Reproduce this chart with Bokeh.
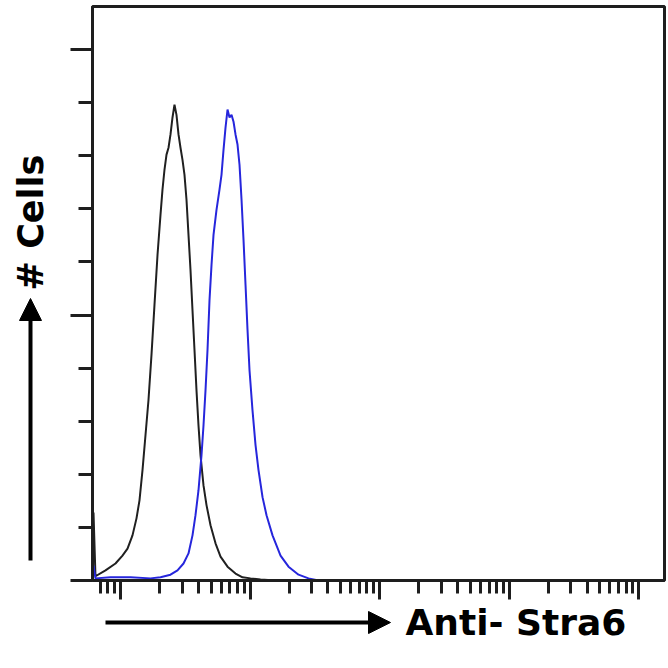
from bokeh.plotting import figure
from bokeh.layouts import row, column
from bokeh.models import Range1d, FixedTicker, Label, Arrow, NormalHead, CustomJSTickFormatter
from bokeh.embed import file_html
from bokeh.resources import INLINE

# ---- data (fluorescence intensity, event count in tick units) ----
control_intensity = [0.619, 0.641, 0.766, 0.915, 1.036, 1.133, 1.238, 1.329, 1.402, 1.479,
                     1.560, 1.645, 1.735, 1.830, 1.931, 2.037, 2.110, 2.187, 2.266, 2.348,
                     2.433, 2.521, 2.612, 2.706, 2.805, 2.906, 3.011, 3.120, 3.233, 3.350,
                     3.471, 3.597, 3.727, 3.862, 4.002, 4.147, 4.374, 4.614, 4.955, 5.416,
                     5.920, 6.705, 7.727, 8.752, 10.09, 12.05, 15.74]
control_count = [1.28, 0.08, 0.19, 0.32, 0.47, 0.60, 0.85, 1.17, 1.51, 2.08,
                 2.74, 3.40, 4.25, 5.19, 6.13, 6.89, 7.36, 7.74, 8.02, 8.15,
                 8.40, 8.72, 8.96, 8.77, 8.40, 8.15, 7.92, 7.64, 7.17, 6.51,
                 5.85, 5.09, 4.34, 3.58, 2.92, 2.36, 1.79, 1.42, 1.04, 0.70,
                 0.45, 0.26, 0.13, 0.06, 0.04, 0.02, 0.0]

stra6_intensity = [0.619, 0.641, 0.837, 1.195, 1.705, 2.037, 2.433, 2.755, 3.065, 3.350,
                   3.597, 3.794, 4.002, 4.222, 4.374, 4.533, 4.697, 4.867, 5.043, 5.226,
                   5.511, 5.813, 6.024, 6.243, 6.469, 6.705, 6.947, 7.197, 7.459, 7.727,
                   8.008, 8.297, 8.600, 8.908, 9.233, 9.566, 9.911, 10.45, 11.03, 11.63,
                   12.49, 13.41, 14.92, 17.20, 19.83, 23.69, 28.29, 33.81]
stra6_count = [0.28, 0.04, 0.06, 0.06, 0.04, 0.06, 0.11, 0.19, 0.32, 0.51,
               0.85, 1.23, 1.70, 2.36, 2.92, 3.58, 4.34, 5.28, 5.94, 6.51,
               6.98, 7.36, 7.64, 8.11, 8.53, 8.87, 8.72, 8.77, 8.64, 8.40,
               8.21, 7.83, 7.17, 6.42, 5.57, 4.72, 3.96, 3.21, 2.55, 2.08,
               1.57, 1.23, 0.85, 0.47, 0.26, 0.11, 0.04, 0.0]

x_major_ticks = [1, 10, 100, 1000, 10000]
x_minor_ticks = [0.7, 0.8, 0.9,
                 2, 3, 4, 5, 6, 7, 8, 9,
                 20, 30, 40, 50, 60, 70, 80, 90,
                 200, 300, 400, 500, 600, 700, 800, 900,
                 2000, 3000, 4000, 5000, 6000, 7000, 8000, 9000]
y_major_ticks = [0, 5, 10]
y_minor_ticks = [1, 2, 3, 4, 6, 7, 8, 9]

x_label = "Anti- Stra6"
y_label = "# Cells"

INK = "#1e1e1e"
W, H = 667, 667
LEFT_W = 50
MAIN_H = 602
B_LEFT, B_RIGHT = 42, 3

# ---------------- main histogram ----------------
p = figure(width=W - LEFT_W, height=MAIN_H, x_axis_type="log",
           x_range=Range1d(0.608, 15850), y_range=Range1d(0, 10.81),
           output_backend="svg", toolbar_location=None,
           min_border_left=B_LEFT, min_border_right=B_RIGHT, min_border_top=6, min_border_bottom=22)
p.grid.visible = False
p.outline_line_color = INK
p.outline_line_width = 3
p.background_fill_color = "white"
p.border_fill_color = "white"

xa = p.xaxis[0]
xa.ticker = FixedTicker(ticks=x_major_ticks, minor_ticks=x_minor_ticks)
xa.formatter = CustomJSTickFormatter(code="return ''")
xa.major_label_text_font_size = "1px"
xa.major_label_standoff = 0
xa.major_tick_in = 0
xa.major_tick_out = 19
xa.minor_tick_in = 0
xa.minor_tick_out = 13
xa.axis_line_width = 3
xa.axis_line_color = INK
xa.major_tick_line_width = 3
xa.minor_tick_line_width = 3
xa.major_tick_line_color = INK
xa.minor_tick_line_color = INK

ya = p.yaxis[0]
ya.ticker = FixedTicker(ticks=y_major_ticks, minor_ticks=y_minor_ticks)
ya.formatter = CustomJSTickFormatter(code="return ''")
ya.major_label_text_font_size = "1px"
ya.major_label_standoff = 0
ya.major_tick_in = 0
ya.major_tick_out = 22
ya.minor_tick_in = 0
ya.minor_tick_out = 14
ya.axis_line_width = 3
ya.axis_line_color = INK
ya.major_tick_line_width = 3
ya.minor_tick_line_width = 3
ya.major_tick_line_color = INK
ya.minor_tick_line_color = INK

p.line(control_intensity, control_count, line_color="#202020", line_width=2)
p.line(stra6_intensity, stra6_count, line_color="#2626dc", line_width=2)


def blank_panel(w, h, x0, y0, bl=0, br=0):
    """A plain panel whose data coordinates equal page pixels (y downwards)."""
    f = figure(width=w, height=h,
               x_range=Range1d(x0 + bl, x0 + w - br), y_range=Range1d(y0 + h, y0),
               output_backend="svg", toolbar_location=None,
               x_axis_location=None, y_axis_location=None,
               min_border=0, min_border_left=bl, min_border_right=br,
               min_border_top=0, min_border_bottom=0)
    f.grid.visible = False
    f.outline_line_color = None
    f.background_fill_color = "white"
    f.border_fill_color = "white"
    return f


def head():
    return NormalHead(size=22, fill_color="black", line_color="black", line_width=1)


# ---------------- y label column ----------------
left = blank_panel(LEFT_W, H, 0, 0)
left.add_layout(Arrow(x_start=30, y_start=560, x_end=30, y_end=298,
                      line_width=4, line_color="black", end=head()))
left.add_layout(Label(x=30, y=222, text=y_label, angle=90, angle_units="deg",
                      text_align="center", text_baseline="middle",
                      text_font="DejaVu Sans", text_font_style="bold", text_font_size="35px",
                      text_color="black"))

# ---------------- x label row (frame aligned with the histogram frame) ----------------
bottom = blank_panel(W - LEFT_W, H - MAIN_H, LEFT_W, MAIN_H, bl=B_LEFT, br=B_RIGHT)
bottom.add_layout(Arrow(x_start=105, y_start=622, x_end=390, y_end=622,
                        line_width=4, line_color="black", end=head()))
bottom.add_layout(Label(x=405, y=622, text=x_label,
                        text_align="left", text_baseline="middle",
                        text_font="DejaVu Sans", text_font_style="bold", text_font_size="36px",
                        text_color="black"))

layout = row(left, column(p, bottom, spacing=0), spacing=0)

open("out.html", "w").write(file_html(layout, INLINE))
